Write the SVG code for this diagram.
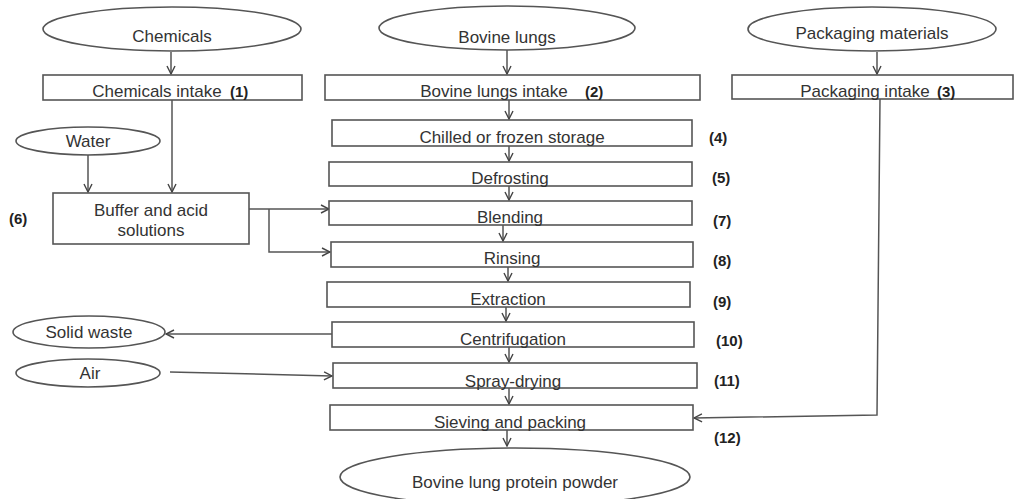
<svg xmlns="http://www.w3.org/2000/svg" width="1018" height="499" viewBox="0 0 1018 499">
<defs>
<marker id="ah" viewBox="0 0 10 10" refX="9" refY="5" markerWidth="10" markerHeight="10" markerUnits="userSpaceOnUse" orient="auto">
<path d="M1,1 L9,5 L1,9" fill="none" stroke="#444" stroke-width="1.4"/>
</marker>
<style>
.n{fill:#fff;stroke:#555;stroke-width:1.6}
.t{font-family:"Liberation Sans",Arial,sans-serif;font-size:17px;fill:#333;text-anchor:middle}
.b{font-family:"Liberation Sans",Arial,sans-serif;font-size:15px;font-weight:bold;fill:#222}
.c{fill:none;stroke:#555;stroke-width:1.5}
</style>
</defs>
<rect width="1018" height="499" fill="#fff"/>
<g id="connectors">
<path class="c" d="M171,52 V74" marker-end="url(#ah)"/>
<path class="c" d="M507,50 V74" marker-end="url(#ah)"/>
<path class="c" d="M877,52 V74" marker-end="url(#ah)"/>
<path class="c" d="M172,100 V192" marker-end="url(#ah)"/>
<path class="c" d="M88,155 V192" marker-end="url(#ah)"/>
<path class="c" d="M249,209 H329" marker-end="url(#ah)"/>
<path class="c" d="M269,209 V252 H330" marker-end="url(#ah)"/>
<path class="c" d="M509,86 V119" marker-end="url(#ah)"/>
<path class="c" d="M509,136 V161" marker-end="url(#ah)"/>
<path class="c" d="M509,186 V200" marker-end="url(#ah)"/>
<path class="c" d="M503,214 V241" marker-end="url(#ah)"/>
<path class="c" d="M508,267 V281" marker-end="url(#ah)"/>
<path class="c" d="M506,295 V321" marker-end="url(#ah)"/>
<path class="c" d="M509,347 V362" marker-end="url(#ah)"/>
<path class="c" d="M509,375 V404" marker-end="url(#ah)"/>
<path class="c" d="M507,417 V446" marker-end="url(#ah)"/>
<path class="c" d="M332,334 H166" marker-end="url(#ah)"/>
<path class="c" d="M170,372 L332,376" marker-end="url(#ah)"/>
<path class="c" d="M880,99 L877,415 L694,418" marker-end="url(#ah)"/>
</g>
<g id="chemicals"><ellipse class="n" cx="172" cy="29" rx="129" ry="22"/><text class="t" x="172" y="42">Chemicals</text></g>
<g id="bovine-lungs"><ellipse class="n" cx="507" cy="28" rx="128" ry="22"/><text class="t" x="507" y="43">Bovine lungs</text></g>
<g id="packaging-materials"><ellipse class="n" cx="872" cy="29" rx="124" ry="22"/><text class="t" x="872" y="39">Packaging materials</text></g>
<g id="chemicals-intake"><rect class="n" x="43" y="75" width="259" height="25"/><text class="t" x="157" y="97">Chemicals intake</text><text class="b" x="230" y="97">(1)</text></g>
<g id="bovine-lungs-intake"><rect class="n" x="325" y="75" width="375" height="25"/><text class="t" x="494" y="97">Bovine lungs intake</text><text class="b" x="585" y="97">(2)</text></g>
<g id="packaging-intake"><rect class="n" x="732" y="75" width="281" height="24"/><text class="t" x="865" y="97">Packaging intake</text><text class="b" x="937" y="97">(3)</text></g>
<g id="water"><ellipse class="n" cx="88" cy="141" rx="72" ry="14"/><text class="t" x="88" y="147">Water</text></g>
<g id="buffer"><rect class="n" x="53" y="193" width="196" height="51"/><text class="t" x="151" y="216">Buffer and acid</text><text class="t" x="151" y="236">solutions</text></g>
<g id="chilled"><rect class="n" x="332" y="120" width="360" height="26"/><text class="t" x="512" y="143">Chilled or frozen storage</text></g>
<g id="defrosting"><rect class="n" x="329" y="162" width="363" height="24"/><text class="t" x="510" y="184">Defrosting</text></g>
<g id="blending"><rect class="n" x="329" y="201" width="363" height="24"/><text class="t" x="510" y="223">Blending</text></g>
<g id="rinsing"><rect class="n" x="331" y="242" width="362" height="25"/><text class="t" x="512" y="264">Rinsing</text></g>
<g id="extraction"><rect class="n" x="327" y="282" width="363" height="25"/><text class="t" x="508" y="305">Extraction</text></g>
<g id="centrifugation"><rect class="n" x="332" y="322" width="362" height="25"/><text class="t" x="513" y="345">Centrifugation</text></g>
<g id="spray-drying"><rect class="n" x="333" y="363" width="364" height="25"/><text class="t" x="513" y="387">Spray-drying</text></g>
<g id="sieving"><rect class="n" x="330" y="405" width="363" height="25"/><text class="t" x="510" y="428">Sieving and packing</text></g>
<g id="solid-waste"><ellipse class="n" cx="89" cy="332" rx="76" ry="16"/><text class="t" x="89" y="338">Solid waste</text></g>
<g id="air"><ellipse class="n" cx="88" cy="373" rx="72" ry="14"/><text class="t" x="90" y="379">Air</text></g>
<g id="product"><ellipse class="n" cx="515" cy="477" rx="175" ry="29"/><text class="t" x="515" y="488">Bovine lung protein powder</text></g>
<g id="labels">
<text class="b" x="9" y="224">(6)</text>
<text class="b" x="709" y="143">(4)</text>
<text class="b" x="712" y="183">(5)</text>
<text class="b" x="713" y="226">(7)</text>
<text class="b" x="713" y="266">(8)</text>
<text class="b" x="713" y="307">(9)</text>
<text class="b" x="716" y="346">(10)</text>
<text class="b" x="714" y="386">(11)</text>
<text class="b" x="714" y="443">(12)</text>
</g>
</svg>
